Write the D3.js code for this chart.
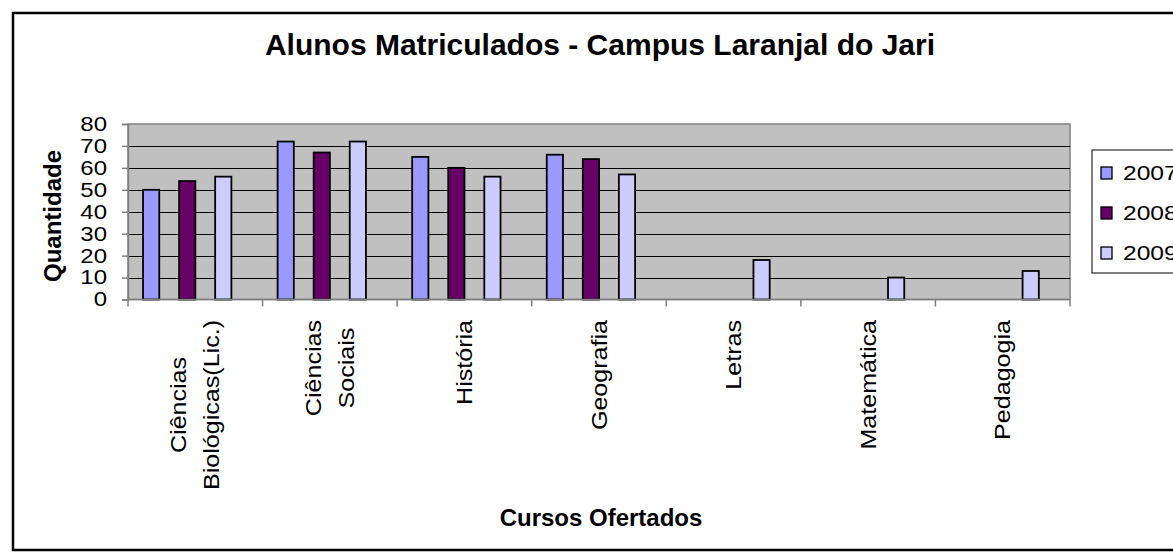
<!DOCTYPE html>
<html>
<head>
<meta charset="utf-8">
<script src="https://cdn.jsdelivr.net/npm/d3@7"></script>
<style>
  body { margin: 0; background: #fff; }
  svg { display: block; font-family: Arial, "Liberation Sans", sans-serif; }
</style>
</head>
<body>
<div id="chartArea"></div>
<script>
// data
const categories = ["Ciências\nBiológicas(Lic.)", "Ciências\nSociais", "História", "Geografia", "Letras", "Matemática", "Pedagogia"];
const years = ["2007", "2008", "2009"];
const values2007 = [50, 72, 65, 66, null, null, null];
const values2008 = [54, 67, 60, 64, null, null, null];
const values2009 = [56, 72, 56, 57, 18, 10, 13];
const yTicks = [0, 10, 20, 30, 40, 50, 60, 70, 80];

// constants
const width = 1173, height = 560;
const plot = { left: 128, right: 1070, top: 124, bottom: 299.5 };
const colors = { "2007": "#9999FF", "2008": "#660066", "2009": "#CCCCFF" };
const stretch = 1.2;   // excel text runs a bit wider than the browser's

var series = [values2007, values2008, values2009];
var rows = [];
categories.forEach(function (c, i) {
    years.forEach(function (y, j) {
        if (series[j][i] != null) rows.push({ cat: c, year: y, value: series[j][i] });
    });
});

var svg = d3.select("#chartArea").append("svg")
    .attr("width", width)
    .attr("height", height);

// outer chart frame
svg.append("rect")
    .attr("x", 13).attr("y", 13)
    .attr("width", width).attr("height", 537)
    .attr("fill", "#fff")
    .attr("stroke", "#000")
    .attr("stroke-width", 2.5);

var xScale = d3.scaleBand().domain(categories).range([plot.left, plot.right]);
var bw = xScale.bandwidth();
var xInner = d3.scaleBand().domain(years).range([bw * 0.105, bw * 0.775]).paddingInner(0.5);
var yScale = d3.scaleLinear().domain([0, 80]).range([plot.bottom, plot.top]);

// plot background
svg.append("rect")
    .attr("x", plot.left).attr("y", plot.top)
    .attr("width", plot.right - plot.left).attr("height", plot.bottom - plot.top)
    .attr("fill", "#C0C0C0")
    .attr("stroke", "#808080")
    .attr("stroke-width", 1.5);

// gridlines
svg.append("g").selectAll("line")
    .data(yTicks.filter(function (t) { return t > 0 && t < 80; }))
    .enter().append("line")
    .attr("x1", plot.left).attr("x2", plot.right)
    .attr("y1", function (d) { return Math.round(yScale(d)) + 0.5; })
    .attr("y2", function (d) { return Math.round(yScale(d)) + 0.5; })
    .attr("stroke", "#000")
    .attr("stroke-width", 1.2);

// bars
svg.append("g").selectAll("rect")
    .data(rows)
    .enter().append("rect")
    .attr("x", function (d) { return xScale(d.cat) + xInner(d.year) + 0.9; })
    .attr("y", function (d) { return yScale(d.value); })
    .attr("width", xInner.bandwidth() - 1.8)
    .attr("height", function (d) { return plot.bottom - yScale(d.value); })
    .attr("fill", function (d) { return colors[d.year]; })
    .attr("stroke", "#000")
    .attr("stroke-width", 1.8);

// y axis
var yAxis = d3.axisLeft(yScale).tickValues(yTicks).tickSize(6).tickPadding(15);
var gy = svg.append("g")
    .attr("transform", "translate(" + plot.left + ",0)")
    .call(yAxis);
gy.select(".domain").attr("stroke", "#808080").attr("stroke-width", 1.5);
gy.selectAll(".tick line").attr("stroke", "#808080").attr("stroke-width", 1.5);
gy.selectAll(".tick text")
    .attr("x", 0)
    .attr("transform", "translate(-21,0) scale(" + stretch + ",1)")
    .attr("font-size", 20)
    .attr("font-family", "Arial, 'Liberation Sans', sans-serif")
    .attr("fill", "#000");

// x axis (ticks at category boundaries)
var gx = svg.append("g");
gx.append("line")
    .attr("x1", plot.left).attr("x2", plot.right)
    .attr("y1", plot.bottom).attr("y2", plot.bottom)
    .attr("stroke", "#808080").attr("stroke-width", 1.5);
gx.selectAll(".xtick")
    .data(categories.map(function (c) { return xScale(c); }).concat([plot.right]))
    .enter().append("line")
    .attr("class", "xtick")
    .attr("x1", function (d) { return d; }).attr("x2", function (d) { return d; })
    .attr("y1", plot.bottom).attr("y2", plot.bottom + 7)
    .attr("stroke", "#808080").attr("stroke-width", 1.5);

// rotated category labels
const labelTop = 320, lineH = 33;
var labels = gx.selectAll(".xlabel")
    .data(categories)
    .enter().append("g")
    .attr("class", "xlabel")
    .attr("transform", function (d) {
        return "translate(" + (xScale(d) + bw / 2) + "," + labelTop + ") rotate(-90) scale(1.14,1)";
    });
labels.each(function (d) {
    var g = d3.select(this);
    var lines = d.split("\n");
    var texts = lines.map(function (l, i) {
        return g.append("text")
            .attr("text-anchor", "middle")
            .attr("dy", "0.35em")
            .attr("y", (i - (lines.length - 1) / 2) * lineH)
            .attr("font-size", 22)
            .attr("fill", "#000")
            .text(l);
    });
    var maxW = d3.max(texts, function (t) { return t.node().getComputedTextLength(); });
    texts.forEach(function (t) { t.attr("x", -maxW / 2); });
});

// titles
svg.append("text")
    .attr("x", 600).attr("y", 55)
    .attr("text-anchor", "middle")
    .attr("font-size", 30).attr("font-weight", "bold")
    .text("Alunos Matriculados - Campus Laranjal do Jari");

svg.append("text")
    .attr("x", 601).attr("y", 526)
    .attr("text-anchor", "middle")
    .attr("font-size", 24).attr("font-weight", "bold")
    .text("Cursos Ofertados");

svg.append("text")
    .attr("transform", "translate(61,216) rotate(-90)")
    .attr("text-anchor", "middle")
    .attr("font-size", 24).attr("font-weight", "bold")
    .text("Quantidade");

// legend
var legend = svg.append("g").attr("transform", "translate(1092,150)");
legend.append("rect")
    .attr("x", 0).attr("y", 0)
    .attr("width", 120).attr("height", 123)
    .attr("fill", "#fff").attr("stroke", "#000").attr("stroke-width", 1);
var items = legend.selectAll(".item")
    .data(years)
    .enter().append("g")
    .attr("class", "item")
    .attr("transform", function (d, i) { return "translate(0," + (i * 40) + ")"; });
items.append("rect")
    .attr("x", 9).attr("y", 17)
    .attr("width", 11).attr("height", 12)
    .attr("fill", function (d) { return colors[d]; })
    .attr("stroke", "#000").attr("stroke-width", 1.3);
items.append("text")
    .attr("transform", "translate(31,29.5) scale(" + (stretch + 0.03) + ",1)")
    .attr("font-size", 20)
    .attr("fill", "#000")
    .text(function (d) { return d; });
</script>
</body>
</html>
